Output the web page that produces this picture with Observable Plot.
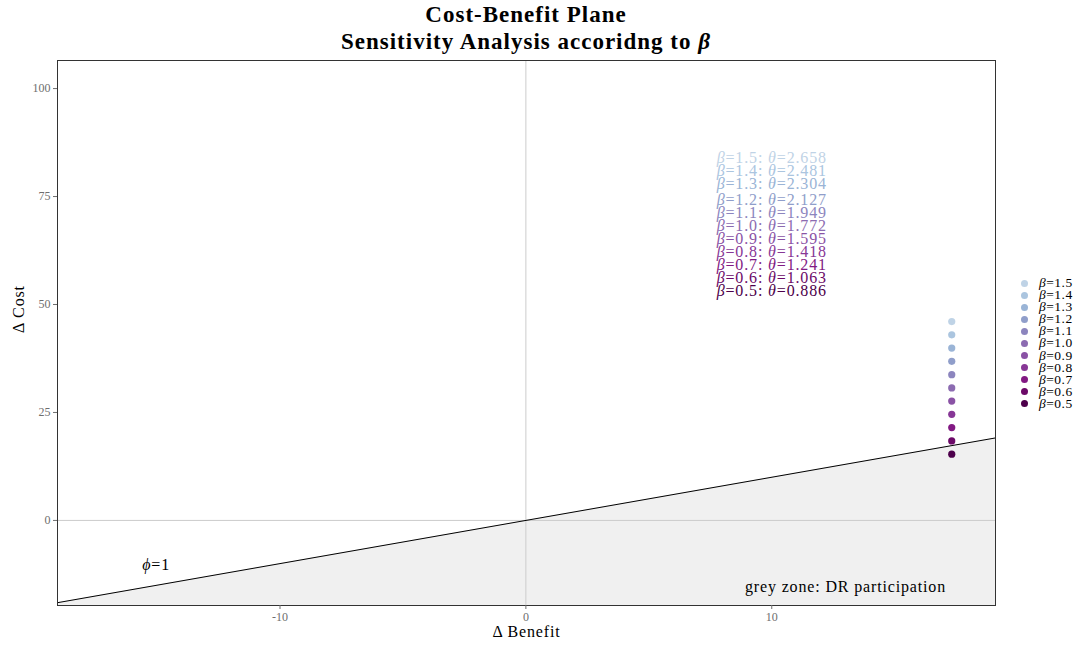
<!DOCTYPE html>
<html><head><meta charset="utf-8">
<script src="https://cdn.jsdelivr.net/npm/d3@7"></script>
<script src="https://cdn.jsdelivr.net/npm/@observablehq/plot@0.6"></script>
<style>
body{margin:0;background:#fff;font-family:"Liberation Serif","DejaVu Serif",serif;}
#wrap{position:relative;width:1082px;height:650px;}
#title{position:absolute;left:0;top:1px;width:1052px;text-align:center;font-weight:bold;font-size:23px;line-height:27px;letter-spacing:1px;z-index:2;color:#000}
#chart{position:absolute;left:0;top:0}
#legend{position:absolute;left:1019px;top:277px;font-size:13.5px;line-height:12.1px;letter-spacing:0.5px}
#legend .row{display:flex;align-items:center;height:12.1px;white-space:nowrap}
#legend .dot{width:7px;height:7px;border-radius:50%;margin-right:11px;margin-left:2px}
i{font-style:italic}
</style>
</head><body>
<div id="wrap">
  <div id="title">Cost-Benefit Plane<br>Sensitivity Analysis accoridng to <i>β</i></div>
  <div id="chart"></div>
  <div id="legend"></div>
</div>
<script>
// Data
const betas = ["0.5","0.6","0.7","0.8","0.9","1.0","1.1","1.2","1.3","1.4","1.5"];
const thetas = ["0.886","1.063","1.241","1.418","1.595","1.772","1.949","2.127","2.304","2.481","2.658"];
const deltaCost = [15.35, 18.41, 21.49, 24.56, 27.63, 30.69, 33.76, 36.84, 39.90, 42.97, 46.04];
const deltaBenefit = 17.32;
const labelY = [53.2, 56.2, 59.2, 62.2, 65.2, 68.2, 71.2, 74.2, 78.0, 81.0, 83.9];
const labelX = 10;
const palette = ["#4d004b","#6c0968","#821983","#873796","#8a52a5","#8c6bb1","#8c85be","#909eca","#9ab4d6","#abc5df","#bfd3e6"];
const diagX = [-19.05, 19.1];
const diagY = [-19.05, 19.1];
const xDomain = [-19.05, 19.1];
const yDomain = [-19.7, 106.5];
const xTicks = [-10, 0, 10];
const yTicks = [0, 25, 50, 75, 100];

const pts = betas.map((b, i) => ({beta: b, theta: thetas[i], x: deltaBenefit, y: deltaCost[i], ly: labelY[i]}));
const diag = diagX.map((x, i) => ({x, y: diagY[i]}));

const font = "Liberation Serif, DejaVu Serif, serif";
const plot = Plot.plot({
  width: 1082, height: 650,
  marginTop: 60, marginBottom: 45, marginLeft: 57, marginRight: 87,
  style: {fontFamily: font, background: "transparent"},
  x: {domain: xDomain, nice: false},
  y: {domain: yDomain, nice: false},
  color: {domain: betas, range: palette},
  marks: [
    Plot.areaY(diag, {x: "x", y1: yDomain[0], y2: "y", fill: "#f0f0f0", clip: true}),
    Plot.ruleX([0], {stroke: "#cccccc", strokeWidth: 1}),
    Plot.ruleY([0], {stroke: "#cccccc", strokeWidth: 1}),
    Plot.line(diag, {x: "x", y: "y", stroke: "#000", strokeWidth: 1, clip: true}),
    Plot.dot(pts, {x: "x", y: "y", fill: "beta", r: 3.6}),
    Plot.text(pts, {x: labelX, y: "ly", text: d => `β=${d.beta}: θ=${d.theta}`, fill: "beta", fontSize: 16, textAnchor: "middle", className: "wide"}),
    Plot.text(["ϕ=1"], {x: -15.04, y: -10.4, text: d => d, fontSize: 16, fill: "#000", className: "wide"}),
    Plot.text(["grey zone: DR participation"], {x: 13.0, y: -15.3, text: d => d, fontSize: 16, fill: "#000", className: "wide"}),
    Plot.frame({stroke: "#333", strokeWidth: 1}),
    Plot.axisX({ticks: xTicks, tickSize: 4, tickPadding: 3, fontSize: 12, color: "#6e6e6e", label: null, tickFormat: d => String(d)}),
    Plot.axisY({ticks: yTicks, tickSize: 4, tickPadding: 3, fontSize: 12, color: "#6e6e6e", label: null, tickFormat: d => String(d)}),
    Plot.text(["Δ Benefit"], {frameAnchor: "bottom", dy: 31, text: d => d, fontSize: 16, fill: "#000", className: "wide"}),
    Plot.text(["Δ Cost"], {frameAnchor: "left", dx: -39, rotate: -90, text: d => d, fontSize: 16, fill: "#000", className: "wide"})
  ]
});
document.getElementById("chart").appendChild(plot);

// widen spacing to approximate the LaTeX font metrics
plot.querySelectorAll("g.wide text, .wide text").forEach(t => t.setAttribute("letter-spacing", "0.85"));

// italicize Greek symbols as in the LaTeX reference
plot.querySelectorAll("text").forEach(t => {
  if (t.children.length === 0 && /[βθϕ]/.test(t.textContent)) {
    const s = t.textContent.replace(/&/g,"&amp;").replace(/</g,"&lt;");
    t.innerHTML = s.replace(/([βθϕ])/g, '<tspan font-style="italic">$1</tspan>');
  }
});

// legend
const leg = document.getElementById("legend");
betas.slice().reverse().forEach(b => {
  const i = betas.indexOf(b);
  const row = document.createElement("div");
  row.className = "row";
  row.innerHTML = `<span class="dot" style="background:${palette[i]}"></span><span><i>β</i>=${b}</span>`;
  leg.appendChild(row);
});
</script>
</body></html>
